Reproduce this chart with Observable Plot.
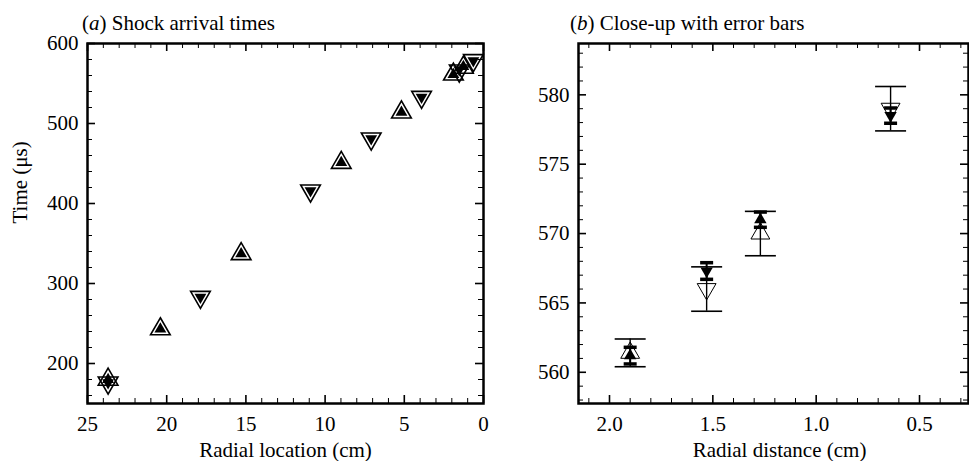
<!DOCTYPE html>
<html><head><meta charset="utf-8">
<script src="https://cdn.jsdelivr.net/npm/d3@7"></script>
<script src="https://cdn.jsdelivr.net/npm/@observablehq/plot@0.6"></script>
<style>
body{margin:0;background:#fff;font-family:"Liberation Serif",serif;}
#wrap{display:flex;width:969px;height:461px;overflow:hidden;background:#fff}
.panel{position:relative;flex:none}
.ttl{height:40px;font-size:21px;color:#000;line-height:1;padding-top:13px;box-sizing:border-box;white-space:nowrap}
svg{display:block}
</style></head><body>
<div id="wrap">
  <div class="panel" id="pa" style="width:500px"><div class="ttl" style="padding-left:82px">(<i>a</i>) Shock arrival times</div></div>
  <div class="panel" id="pb" style="width:469px"><div class="ttl" style="padding-left:70px">(<i>b</i>) Close-up with error bars</div></div>
</div>
<script>
// ---- Panel (a): shock arrival times ----
const aUpR = [23.7, 20.4, 15.3, 8.98, 5.18, 1.9, 1.27];
const aUpT = [180, 243, 337, 451, 514, 561.4, 570.0];
const aUpFillT = [180, 243, 337, 451, 514, 561.2, 571.0];
const aDownR = [23.7, 17.87, 10.92, 7.09, 3.91, 1.53, 0.64];
const aDownT = [176, 283, 416, 481, 533, 566.0, 579.0];
const aDownFillT = [176, 283, 416, 481, 533, 567.3, 578.5];
const aXTicks = [25, 20, 15, 10, 5, 0];
const aYTicks = [200, 300, 400, 500, 600];

// ---- Panel (b): close-up with error bars ----
const bR = [1.9, 1.53, 1.27, 0.64];
const bDir = ["up", "down", "up", "down"];
const bOpenT = [561.4, 566.0, 570.0, 579.0];
const bOpenErr = [1.0, 1.6, 1.6, 1.6];
const bFillT = [561.2, 567.3, 571.0, 578.5];
const bFillErr = [0.6, 0.6, 0.55, 0.55];
const bXTicks = [2.0, 1.5, 1.0, 0.5];
const bYTicks = [560, 565, 570, 575, 580];

const capSymbol = {draw(ctx, size) { const r = Math.sqrt(size / Math.PI); ctx.moveTo(-r, 0); ctx.lineTo(r, 0); }};

function frameTicks(o) {
  const fw = o.W - o.ml - o.mr, fh = o.H - o.mt - o.mb;
  const M = 8, m = 5;
  const xs = {x: d => d, stroke: "black"};
  const ys = {y: d => d, stroke: "black"};
  return [
    Plot.tickX(o.xMajor, {...xs, insetTop: fh - M, strokeWidth: 1.6}),
    Plot.tickX(o.xMajor, {...xs, insetBottom: fh - M, strokeWidth: 1.6}),
    Plot.tickX(o.xMinor, {...xs, insetTop: fh - m, strokeWidth: 1}),
    Plot.tickX(o.xMinor, {...xs, insetBottom: fh - m, strokeWidth: 1}),
    Plot.tickY(o.yMajor, {...ys, insetRight: fw - M, strokeWidth: 1.6}),
    Plot.tickY(o.yMajor, {...ys, insetLeft: fw - M, strokeWidth: 1.6}),
    Plot.tickY(o.yMinor, {...ys, insetRight: fw - m, strokeWidth: 1}),
    Plot.tickY(o.yMinor, {...ys, insetLeft: fw - m, strokeWidth: 1}),
    Plot.frame({stroke: "black", strokeWidth: 2.5})
  ];
}

const style = {fontFamily: "Liberation Serif", fontSize: "21px", color: "black", background: "white", overflow: "visible"};

// Panel a
{
  const W = 500, H = 421, ml = 87, mr = 17, mt = 3, mb = 58;
  const xMinor = d3.range(0, 26, 1).filter(v => v % 5 !== 0);
  const yMinor = d3.range(160, 600, 20).filter(v => v % 100 !== 0);
  const up = d3.range(aUpR.length), dn = d3.range(aDownR.length);
  const plot = Plot.plot({
    width: W, height: H, marginLeft: ml, marginRight: mr, marginTop: mt, marginBottom: mb,
    style,
    x: {domain: [25, 0]},
    y: {domain: [150, 600]},
    marks: [
      ...frameTicks({W, H, ml, mr, mt, mb, xMajor: aXTicks, xMinor, yMajor: aYTicks, yMinor}),
      Plot.axisX(aXTicks, {tickSize: 0, tickPadding: 13, label: null, fontSize: 21}),
      Plot.axisY(aYTicks, {tickSize: 0, tickPadding: 9, label: null, fontSize: 21}),
      Plot.text(["Radial location (cm)"], {frameAnchor: "bottom", dy: 53, lineAnchor: "bottom", fontSize: 21}),
      Plot.text(["Time (μs)"], {frameAnchor: "left", dx: -67, rotate: -90, lineAnchor: "middle", fontSize: 21}),
      Plot.dot(up, {x: i => aUpR[i], y: i => aUpT[i], symbol: "triangle", r: 7.3, fill: "none", stroke: "black", strokeWidth: 1.6}),
      Plot.dot(dn, {x: i => aDownR[i], y: i => aDownT[i], symbol: "triangle", rotate: 180, r: 7.3, fill: "none", stroke: "black", strokeWidth: 1.6}),
      Plot.dot(up, {x: i => aUpR[i], y: i => aUpFillT[i], symbol: "triangle", r: 4.4, fill: "black", stroke: "none"}),
      Plot.dot(dn, {x: i => aDownR[i], y: i => aDownFillT[i], symbol: "triangle", rotate: 180, r: 4.4, fill: "black", stroke: "none"})
    ]
  });
  document.getElementById("pa").appendChild(plot);
}

// Panel b
{
  const W = 469, H = 421, ml = 78, mr = 1, mt = 3, mb = 58;
  const xMinor = d3.range(3, 22, 1).map(v => v / 10).filter(v => Math.round(v * 10) % 5 !== 0);
  const yMinor = d3.range(558, 584, 1).filter(v => v % 5 !== 0);
  const idx = d3.range(bR.length);
  const upI = idx.filter(i => bDir[i] === "up"), dnI = idx.filter(i => bDir[i] === "down");
  const plot = Plot.plot({
    width: W, height: H, marginLeft: ml, marginRight: mr, marginTop: mt, marginBottom: mb,
    style,
    x: {domain: [2.15, 0.263]},
    y: {domain: [557.75, 583.7]},
    marks: [
      ...frameTicks({W, H, ml, mr, mt, mb, xMajor: bXTicks, xMinor, yMajor: bYTicks, yMinor}),
      Plot.axisX(bXTicks, {tickSize: 0, tickPadding: 13, label: null, tickFormat: ".1f", fontSize: 21}),
      Plot.axisY(bYTicks, {tickSize: 0, tickPadding: 9, label: null, fontSize: 21}),
      Plot.text(["Radial distance (cm)"], {frameAnchor: "bottom", dy: 53, dx: 6, lineAnchor: "bottom", fontSize: 21}),
      // open series: thin error bars with wide caps
      Plot.ruleX(idx, {x: i => bR[i], y1: i => bOpenT[i] - bOpenErr[i], y2: i => bOpenT[i] + bOpenErr[i], stroke: "black", strokeWidth: 1.4}),
      Plot.dot(idx, {x: i => bR[i], y: i => bOpenT[i] - bOpenErr[i], symbol: capSymbol, r: 15.5, stroke: "black", strokeWidth: 1.6, fill: "none"}),
      Plot.dot(idx, {x: i => bR[i], y: i => bOpenT[i] + bOpenErr[i], symbol: capSymbol, r: 15.5, stroke: "black", strokeWidth: 1.6, fill: "none"}),
      Plot.dot(upI, {x: i => bR[i], y: i => bOpenT[i], symbol: "triangle", r: 7, fill: "none", stroke: "black", strokeWidth: 1}),
      Plot.dot(dnI, {x: i => bR[i], y: i => bOpenT[i], symbol: "triangle", rotate: 180, r: 7, fill: "none", stroke: "black", strokeWidth: 1}),
      // filled series: short thick caps
      Plot.ruleX(idx, {x: i => bR[i], y1: i => bFillT[i] - bFillErr[i], y2: i => bFillT[i] + bFillErr[i], stroke: "black", strokeWidth: 2}),
      Plot.dot(idx, {x: i => bR[i], y: i => bFillT[i] - bFillErr[i], symbol: capSymbol, r: 6.5, stroke: "black", strokeWidth: 3.5, fill: "none"}),
      Plot.dot(idx, {x: i => bR[i], y: i => bFillT[i] + bFillErr[i], symbol: capSymbol, r: 6.5, stroke: "black", strokeWidth: 3.5, fill: "none"}),
      Plot.dot(upI, {x: i => bR[i], y: i => bFillT[i], symbol: "triangle", r: 4.6, fill: "black", stroke: "none"}),
      Plot.dot(dnI, {x: i => bR[i], y: i => bFillT[i], symbol: "triangle", rotate: 180, r: 4.6, fill: "black", stroke: "none"})
    ]
  });
  document.getElementById("pb").appendChild(plot);
}
</script>
</body></html>
